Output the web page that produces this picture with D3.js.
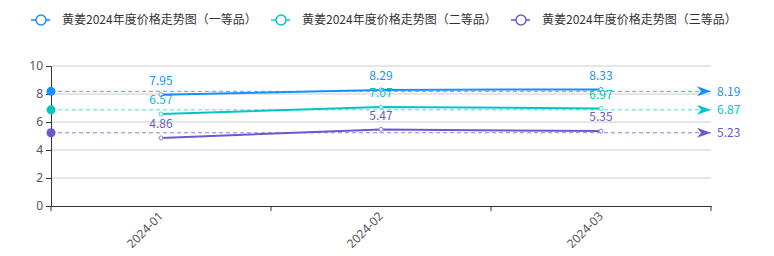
<!DOCTYPE html>
<html>
<head>
<meta charset="utf-8">
<script src="https://cdn.jsdelivr.net/npm/d3@7"></script>
<style>
  body { margin: 0; background: #fff; }
  svg { font-family: "Noto Sans CJK SC", "Noto Sans", sans-serif; }
</style>
</head>
<body>
<svg id="chart" width="774" height="256"></svg>
<script>
// Data
const months = ["2024-01", "2024-02", "2024-03"];
const seriesNames = [
    "黄姜2024年度价格走势图（一等品）",
    "黄姜2024年度价格走势图（二等品）",
    "黄姜2024年度价格走势图（三等品）"
];
const grade1 = [7.95, 8.29, 8.33];
const grade2 = [6.57, 7.07, 6.97];
const grade3 = [4.86, 5.47, 5.35];
const averages = [8.19, 6.87, 5.23];
const yTicks = [0, 2, 4, 6, 8, 10];

const colors = ["#1890ff", "#00c5c8", "#6a5acd"];
const lightColors = ["#4da6ff", "#4fd8d8", "#8c80dc"];

const margin = { top: 66, right: 63, bottom: 50, left: 51 };
const width  = 774 - margin.left - margin.right;
const height = 256 - margin.top - margin.bottom;

const svg = d3.select("#chart");
const g = svg.append("g").attr("transform", `translate(${margin.left},${margin.top})`);

// Scales
const x = d3.scaleBand().domain(months).range([0, width]);
const y = d3.scaleLinear().domain([0, 10]).range([height, 0]);

// Grid
g.selectAll(".grid")
    .data(yTicks.filter(d => d > 0))
    .enter().append("line")
    .attr("x1", 0).attr("x2", width)
    .attr("y1", d => y(d)).attr("y2", d => y(d))
    .attr("stroke", "#ccc").attr("stroke-width", 1);

// Y axis
const yAxisG = g.append("g")
    .call(d3.axisLeft(y).tickValues(yTicks).tickSize(5).tickPadding(3));
yAxisG.select(".domain").attr("stroke", "#333");
yAxisG.selectAll(".tick line").attr("stroke", "#333");
yAxisG.selectAll("text").attr("fill", "#555").attr("font-size", "12px")
    .style("font-family", "'Noto Sans', sans-serif");

// X axis
const xAxisG = g.append("g").attr("transform", `translate(0,${height})`)
    .call(d3.axisBottom(x).tickSize(0).tickPadding(8));
xAxisG.select(".domain").attr("stroke", "#333");
xAxisG.selectAll("text")
    .attr("fill", "#555").attr("font-size", "12px")
    .style("font-family", "'Noto Sans', sans-serif")
    .attr("text-anchor", "end")
    .attr("dy", "0.35em")
    .attr("transform", "translate(0,8) rotate(-45)")
    .attr("y", 0).attr("x", 0);
// band boundary ticks
g.selectAll(".xtick")
    .data(d3.range(months.length + 1))
    .enter().append("line")
    .attr("x1", i => i * x.step()).attr("x2", i => i * x.step())
    .attr("y1", height).attr("y2", height + 5)
    .attr("stroke", "#333");

// Arrow markers
const defs = svg.append("defs");
colors.forEach((c, i) => {
    defs.append("marker")
        .attr("id", "arrow" + i)
        .attr("viewBox", "0 0 14 10")
        .attr("refX", 14).attr("refY", 5)
        .attr("markerWidth", 14).attr("markerHeight", 10)
        .attr("markerUnits", "userSpaceOnUse")
        .attr("orient", "auto")
        .append("path")
        .attr("d", "M0,0 L14,5 L0,10 L4,5 Z")
        .attr("fill", c);
});

const allSeries = [grade1, grade2, grade3];
const cx = d => x(d) + x.bandwidth() / 2;

// Average mark lines
allSeries.forEach((vals, i) => {
    const avg = averages[i];
    g.append("line")
        .attr("x1", 0).attr("x2", width)
        .attr("y1", y(avg)).attr("y2", y(avg))
        .attr("stroke", lightColors[i]).attr("stroke-width", 1)
        .attr("stroke-dasharray", "4,3")
        .attr("marker-end", `url(#arrow${i})`);
    g.append("circle")
        .attr("cx", 0).attr("cy", y(avg)).attr("r", 4.5)
        .attr("fill", colors[i]);
    g.append("text")
        .attr("x", width + 6).attr("y", y(avg))
        .attr("dy", "0.35em")
        .attr("fill", colors[i]).attr("font-size", "12px")
        .text(avg.toFixed(2));
});

// Lines, points, labels
const line = d3.line().x((d, j) => cx(months[j])).y(d => y(d));
allSeries.forEach((vals, i) => {
    g.append("path")
        .datum(vals)
        .attr("d", line)
        .attr("fill", "none")
        .attr("stroke", colors[i]).attr("stroke-width", 2);
    g.selectAll(".pt" + i)
        .data(vals)
        .enter().append("circle")
        .attr("cx", (d, j) => cx(months[j])).attr("cy", d => y(d))
        .attr("r", 2).attr("fill", "#fff")
        .attr("stroke", lightColors[i]).attr("stroke-width", 1);
    g.selectAll(".lbl" + i)
        .data(vals)
        .enter().append("text")
        .attr("x", (d, j) => cx(months[j])).attr("y", d => y(d) - 14)
        .attr("dy", "0.35em")
        .attr("text-anchor", "middle")
        .attr("fill", colors[i]).attr("font-size", "12px")
        .text(d => d.toFixed(2));
});

// Legend
const legend = svg.append("g").attr("transform", "translate(31,20)");
seriesNames.forEach((name, i) => {
    const item = legend.append("g").attr("transform", `translate(${i * 240},0)`);
    item.append("line")
        .attr("x1", 0).attr("x2", 19).attr("y1", 0).attr("y2", 0)
        .attr("stroke", lightColors[i]).attr("stroke-width", 2);
    item.append("circle")
        .attr("cx", 10).attr("cy", 0).attr("r", 5)
        .attr("fill", "#fff").attr("stroke", colors[i]).attr("stroke-width", 1.5);
    item.append("text")
        .attr("x", 31).attr("y", 0).attr("dy", "0.35em")
        .attr("fill", "#333").attr("font-size", "12px")
        .text(name);
});
</script>
</body>
</html>
